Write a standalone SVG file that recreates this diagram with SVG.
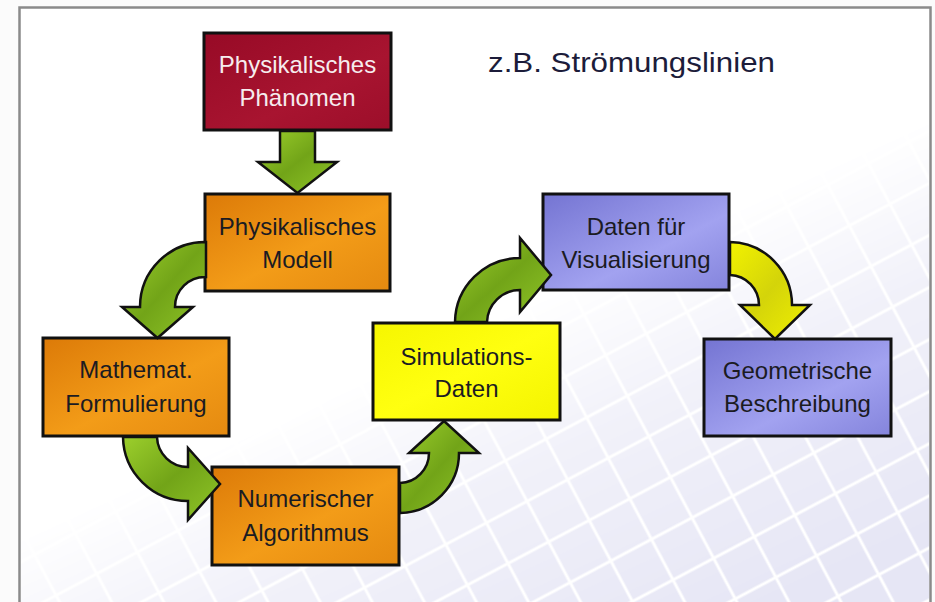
<svg xmlns="http://www.w3.org/2000/svg" width="935" height="602" viewBox="0 0 935 602">
  <defs>
    <style>
      .box { stroke: #111; stroke-width: 3; }
      .lbl { font-family: "Liberation Sans", Arial, sans-serif; font-size: 24px; fill: #1b1b22; text-anchor: middle; }
      .lbl-light { fill: #f6ecee; }
      .arrow { stroke: #111; stroke-width: 2.5; stroke-linejoin: miter; }
      .green { fill: url(#gGreen); }
      .yellowArrow { fill: url(#gYellowArrow); }
    </style>
    <linearGradient id="gRed" x1="0" y1="0" x2="1" y2="1">
      <stop offset="0" stop-color="#970a26"/>
      <stop offset="0.6" stop-color="#a81430"/>
      <stop offset="1" stop-color="#9c0e2a"/>
    </linearGradient>
    <linearGradient id="gOrange" x1="0" y1="0" x2="1" y2="1">
      <stop offset="0" stop-color="#dc7a08"/>
      <stop offset="0.55" stop-color="#f39c18"/>
      <stop offset="1" stop-color="#e58a10"/>
    </linearGradient>
    <linearGradient id="gYellow" x1="0" y1="0" x2="1" y2="1">
      <stop offset="0" stop-color="#f6f600"/>
      <stop offset="0.5" stop-color="#ffff10"/>
      <stop offset="1" stop-color="#f4f400"/>
    </linearGradient>
    <linearGradient id="gViolet" x1="0" y1="0" x2="1" y2="1">
      <stop offset="0" stop-color="#7474d2"/>
      <stop offset="0.6" stop-color="#a2a2f0"/>
      <stop offset="1" stop-color="#8484dc"/>
    </linearGradient>
    <linearGradient id="gGreen" x1="0" y1="0" x2="1" y2="1">
      <stop offset="0" stop-color="#9ccf2c"/>
      <stop offset="0.5" stop-color="#72a418"/>
      <stop offset="1" stop-color="#90c628"/>
    </linearGradient>
    <linearGradient id="gYellowArrow" x1="0" y1="0" x2="1" y2="1">
      <stop offset="0" stop-color="#f2f200"/>
      <stop offset="0.5" stop-color="#d4d40a"/>
      <stop offset="1" stop-color="#f0f000"/>
    </linearGradient>
    <!-- tiled backdrop in the lower right corner -->
    <pattern id="tiles" width="46" height="46" patternUnits="userSpaceOnUse" patternTransform="rotate(-28)">
      <rect width="46" height="46" fill="#e6e6f5"/>
      <rect x="0" y="0" width="46" height="46" fill="none" stroke="#ffffff" stroke-width="3"/>
    </pattern>
    <linearGradient id="fade" x1="0.4" y1="0.25" x2="0.9" y2="0.95">
      <stop offset="0" stop-color="#fff" stop-opacity="0"/>
      <stop offset="0.35" stop-color="#fff" stop-opacity="0"/>
      <stop offset="0.6" stop-color="#fff" stop-opacity="0.55"/>
      <stop offset="1" stop-color="#fff" stop-opacity="1"/>
    </linearGradient>
    <mask id="tileMask">
      <rect x="0" y="0" width="935" height="602" fill="url(#fade)"/>
    </mask>
  </defs>

  <!-- page -->
  <rect x="0" y="0" width="935" height="602" fill="#fbfbfb"/>
  <rect x="19.5" y="7.5" width="911" height="610" fill="#ffffff" stroke="#8a8a8a" stroke-width="2.5"/>
  <rect x="21" y="9" width="908" height="600" fill="url(#tiles)" mask="url(#tileMask)"/>

  <text x="488" y="72" font-family="'Liberation Sans', Arial, sans-serif" font-size="28" fill="#1c1c3a" textLength="287" lengthAdjust="spacingAndGlyphs">z.B. Strömungslinien</text>

  <g id="node-phaenomen">
    <rect class="box" x="204" y="33" width="187" height="97" fill="url(#gRed)"/>
    <text class="lbl lbl-light" x="297.5" y="73">Physikalisches</text>
    <text class="lbl lbl-light" x="297.5" y="106">Phänomen</text>
  </g>
  <g id="node-modell">
    <rect class="box" x="205" y="194" width="185" height="97" fill="url(#gOrange)"/>
    <text class="lbl" x="297.5" y="235">Physikalisches</text>
    <text class="lbl" x="297.5" y="268">Modell</text>
  </g>
  <g id="node-formulierung">
    <rect class="box" x="43" y="338" width="186" height="98" fill="url(#gOrange)"/>
    <text class="lbl" x="136" y="378">Mathemat.</text>
    <text class="lbl" x="136" y="412">Formulierung</text>
  </g>
  <g id="node-algorithmus">
    <rect class="box" x="212" y="467" width="187" height="98" fill="url(#gOrange)"/>
    <text class="lbl" x="305.5" y="507">Numerischer</text>
    <text class="lbl" x="305.5" y="541">Algorithmus</text>
  </g>
  <g id="node-simulation">
    <rect class="box" x="373" y="323" width="187" height="97" fill="url(#gYellow)"/>
    <text class="lbl" x="466.5" y="365">Simulations-</text>
    <text class="lbl" x="466.5" y="397">Daten</text>
  </g>
  <g id="node-visualisierung">
    <rect class="box" x="543" y="194" width="186" height="96" fill="url(#gViolet)"/>
    <text class="lbl" x="636" y="235">Daten für</text>
    <text class="lbl" x="636" y="268">Visualisierung</text>
  </g>
  <g id="node-geometrie">
    <rect class="box" x="704" y="339" width="187" height="97" fill="url(#gViolet)"/>
    <text class="lbl" x="797.5" y="379">Geometrische</text>
    <text class="lbl" x="797.5" y="412">Beschreibung</text>
  </g>

  <g id="connectors">
    <!-- Phänomen to Modell -->
    <path class="arrow green" d="M280,131 L315,131 L315,162 L337,162 L297.5,193 L258,162 L280,162 Z"/>
    <!-- Modell to Formulierung -->
    <path class="arrow green" d="M206,242 A65,65 0 0 0 140,307 L122,307 L157.5,338 L193,307 L175,307 A30,30 0 0 1 206,277 Z"/>
    <!-- Formulierung to Algorithmus -->
    <path class="arrow green" d="M123,437 A65,65 0 0 0 188,501 L188,520 L220,484 L188,448 L188,467 A31,31 0 0 1 157,437 Z"/>
    <!-- Algorithmus to Simulation -->
    <path class="arrow green" d="M400,513 A60,60 0 0 0 459,453 L479,453 L444,421 L409,453 L429,453 A30,30 0 0 1 400,483 Z"/>
    <!-- Simulation to Visualisierung -->
    <path class="arrow green" d="M455,322 A65,65 0 0 1 520,258 L520,238 L551,275 L520,312 L520,290 A33,33 0 0 0 487,322 Z"/>
    <!-- Visualisierung to Geometrie -->
    <path class="arrow yellowArrow" d="M730,242 A63,63 0 0 1 792,305 L810,305 L775,339 L740,305 L759,305 A30,30 0 0 0 730,275 Z"/>
  </g>
</svg>
